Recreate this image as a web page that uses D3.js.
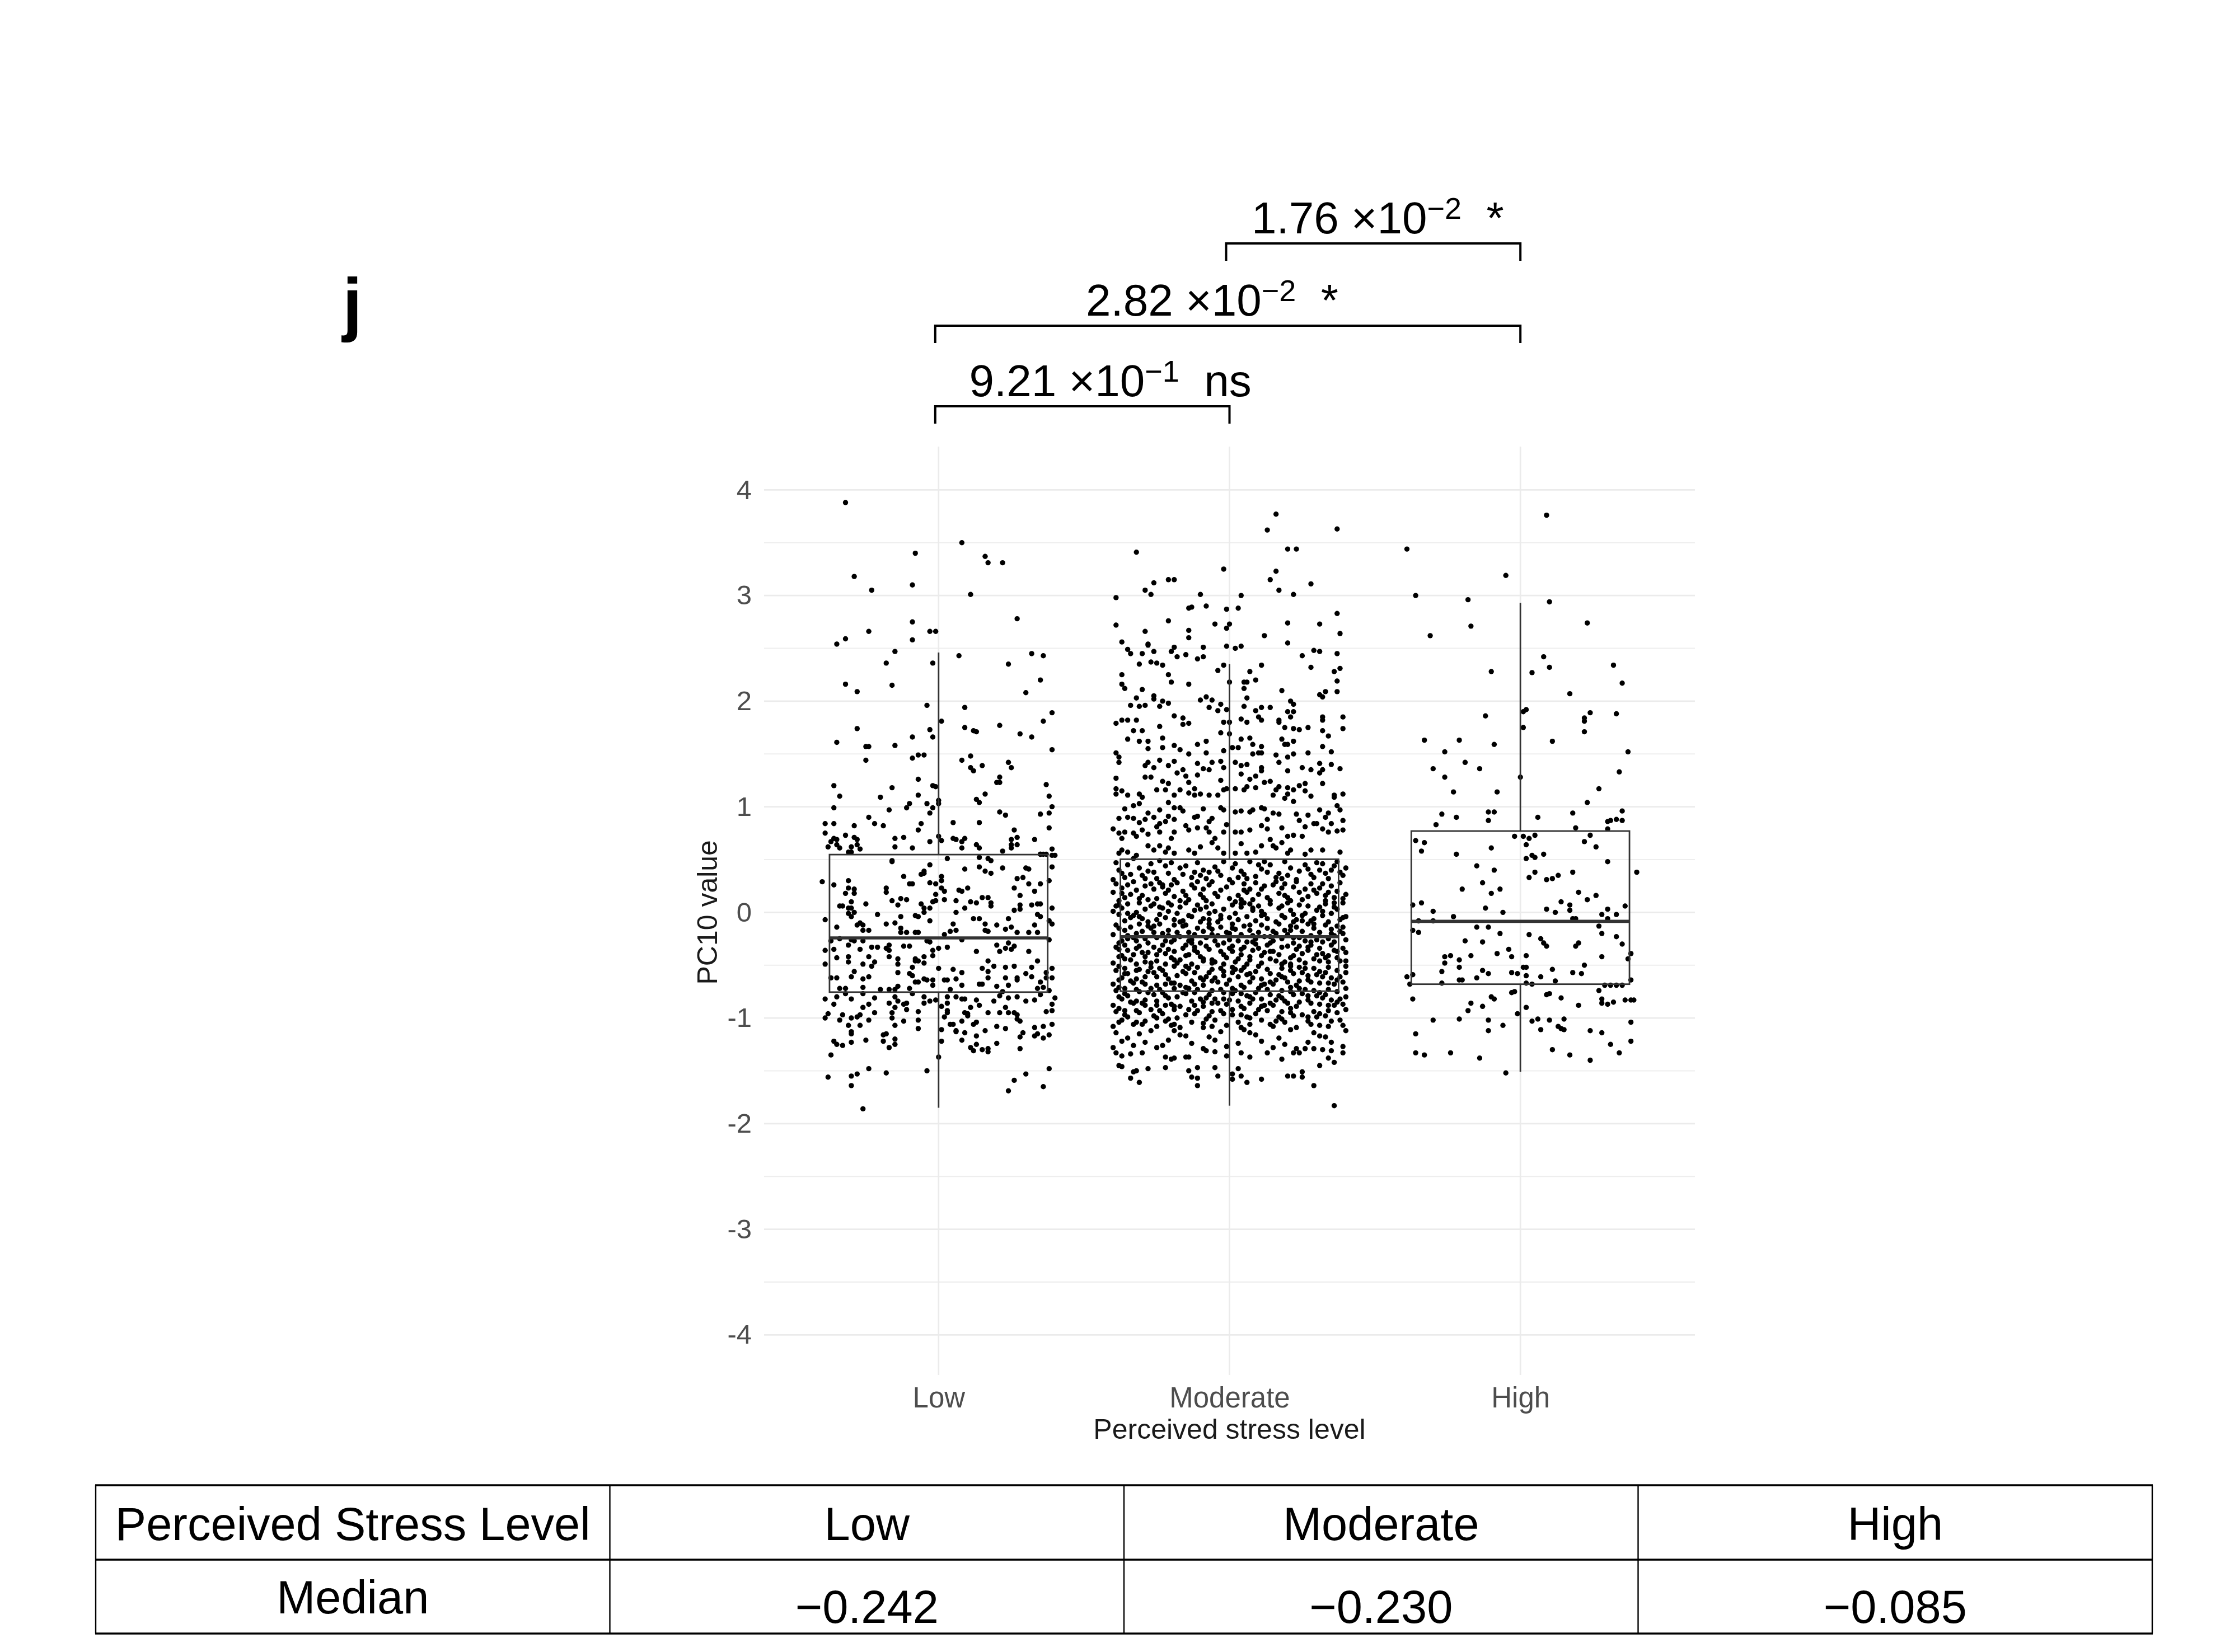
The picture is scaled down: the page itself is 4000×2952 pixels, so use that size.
<!DOCTYPE html>
<html>
<head>
<meta charset="utf-8">
<script src="https://cdn.jsdelivr.net/npm/d3@7"></script>
<style>
  body { margin: 0; background: #fff; }
  text { font-family: "Liberation Sans", Arial, sans-serif; }
</style>
</head>
<body>
<div id="chart"></div>
<script>
// ---- data ----
const categories = ["Low", "Moderate", "High"];
const yTicks = [-4, -3, -2, -1, 0, 1, 2, 3, 4];
const yMinorTicks = [-3.5, -2.5, -1.5, -0.5, 0.5, 1.5, 2.5, 3.5];

// boxplot summaries per category
const q1 = [-0.755, -0.746, -0.68];
const medians = [-0.242, -0.230, -0.085];
const q3 = [0.547, 0.503, 0.77];
const whiskerLow = [-1.85, -1.83, -1.51];
const whiskerHigh = [2.46, 2.35, 2.93];

// pairwise tests
const compFrom = ["Moderate", "Low", "Low"];
const compTo = ["High", "High", "Moderate"];
const pMantissa = ["1.76", "2.82", "9.21"];
const pExponent = ["\u22122", "\u22122", "\u22121"];
const pSignif = ["*", "*", "ns"];

// summary table
const tableHeader = ["Perceived Stress Level", "Low", "Moderate", "High"];
const tableRow = ["Median", "\u22120.242", "\u22120.230", "\u22120.085"];

// jittered points: [horizontal jitter x100 (category units), PC10 value x100]
const lowPoints = [
[-32,388],[8,350],[-8,340],[16,337],[17,331],[22,331],[-29,318],[-9,310],[-23,305],[11,301],[27,278],[-9,275],[-24,266],[-3,266],[-1,266],[-32,259],[-35,254],[-9,258],[-15,247],[7,243],[32,245],[36,243],[-18,236],[-2,236],[24,235],[35,220],[-32,216],[-16,215],[-28,209],[30,208],[-4,196],[9,194],[39,189],[1,181],[36,181],[21,177],[-28,174],[9,175],[-3,173],[12,172],[13,171],[28,169],[-9,166],[-2,166],[32,166],[-35,161],[-25,157],[-24,157],[-15,158],[39,154],[-5,149],[-7,149],[11,148],[-9,146],[8,144],[-25,144],[24,142],[25,137],[15,139],[11,137],[12,134],[-7,126],[21,128],[20,123],[21,123],[-36,120],[37,121],[-16,118],[-2,120],[-1,119],[-34,110],[-7,111],[38,110],[-20,109],[13,107],[14,104],[16,112],[0,106],[0,103],[-10,103],[-4,103],[-11,99],[-36,99],[-2,99],[39,100],[-17,97],[21,95],[23,92],[-3,94],[35,93],[38,94],[-24,90],[-22,84],[-19,82],[-39,84],[-36,84],[-29,82],[-6,84],[5,85],[14,85],[38,80],[-7,78],[26,78],[-39,75],[-32,73],[-12,71],[-15,70],[-15,62],[-36,70],[-37,67],[-35,69],
[-29,71],[-28,69],[-28,64],[-27,60],[25,69],[27,71],[25,64],[27,64],[25,61],[0,72],[1,68],[-3,67],[-9,61],[5,70],[6,69],[8,67],[8,61],[9,70],[13,64],[14,61],[33,69],[22,58],[-38,62],[-35,64],[-34,61],[-30,62],[-31,57],[-30,57],[39,60],[39,54],[35,55],[36,55],
[35,55],[37,55],[40,54],[3,51],[14,52],[17,51],[18,49],[-16,49],[-16,48],[39,43],[-3,45],[14,43],[22,42],[9,41],[30,42],[31,41],[16,39],[18,37],
[-40,29],[-36,26],[-31,30],[-31,23],[-29,22],[-32,18],[-29,18],[-18,23],[-18,19],[-12,34],[-10,27],[-9,27],[-5,37],[-5,39],[-6,36],[-3,28],[-1,27],[1,34],[1,30],[1,23],[2,20],[7,21],[8,20],[10,23],[27,32],[29,33],[26,23],[31,27],[35,27],[33,20],[38,30],[28,16],[-1,17],
[-34,6],[-33,6],[-30,10],[-31,4],[-30,4],[-31,-1],[-29,0],[-25,8],[-16,11],[-14,7],[-13,13],[-11,12],[-6,8],[-5,4],[-5,0],[-3,4],[-2,10],[-1,11],[2,12],[6,11],[9,4],[11,10],[13,9],[15,14],[17,14],[18,9],[18,6],[26,2],[28,7],[28,3],[32,7],[34,8],[35,8],[39,4],[6,0],
[-39,-7],[-35,-14],[-30,-4],[-28,-12],[-27,-10],[-26,-12],[-26,-17],[-24,-17],[-21,-2],[-18,-11],[-15,-10],[-13,-4],[-13,-15],[-13,-19],[-11,-19],[-8,-19],[-7,-19],[-8,-3],[-7,-4],[-3,-8],[2,-21],[4,-18],[5,-11],[6,-17],[12,-6],[14,-6],[16,-11],[16,-17],[17,-18],[20,-12],[24,-6],[23,-16],[25,-14],[27,-19],[31,-19],[33,-12],[34,-2],[35,-4],[38,-8],[39,-11],[34,-19],
[-37,-27],[-36,-35],[-34,-25],[-30,-26],[-29,-27],[-26,-27],[-31,-31],[-27,-35],[-23,-33],[-21,-33],[-18,-34],[-17,-31],[-17,-36],[-12,-32],[-10,-32],[-4,-27],[-3,-28],[-2,-36],[0,-34],[3,-33],[8,-26],[13,-37],[20,-31],[21,-37],[23,-34],[24,-29],[26,-32],[25,-35],[31,-37],[38,-26],[-39,-36],[-35,-43],[-31,-42],[-24,-42],[-17,-42],[-14,-44],[-8,-44],[-5,-42],[-2,-41],
[-39,-49],[-31,-47],[-26,-49],[-22,-47],[-23,-51],[-14,-49],[-9,-52],[-8,-46],[-7,-46],[-5,-48],[-14,-57],[-29,-56],[-30,-61],[-37,-62],[-35,-62],[-26,-63],[-24,-61],[-10,-58],[-9,-60],[-8,-66],[-7,-66],[-5,-63],[-4,-64],[-2,-64],[-2,-69],[0,-53],[2,-64],[3,-64],[5,-54],[8,-57],[6,-63],[8,-69],[14,-68],[15,-68],[15,-53],[17,-56],[19,-51],[17,-46],[17,-62],[20,-70],[23,-52],[23,-62],[24,-69],[26,-51],[27,-62],[27,-64],[30,-58],[32,-52],[32,-61],[34,-46],[35,-66],[37,-57],[37,-62],[39,-53],[39,-62],[-34,-72],[-32,-72],[-26,-71],[-20,-73],[-17,-73],[-15,-73],[-14,-70],[-10,-72],[4,-73],[34,-72],[38,-74],[36,-71],
[-39,-82],[-35,-80],[-36,-87],[-32,-77],[-30,-82],[-26,-77],[-22,-81],[-26,-90],[-24,-87],[-22,-95],[-17,-86],[-15,-80],[-14,-84],[-15,-90],[-12,-87],[-11,-86],[-11,-92],[-9,-77],[-5,-80],[-5,-86],[-3,-84],[-1,-83],[1,-89],[3,-80],[3,-86],[6,-80],[8,-82],[9,-82],[11,-90],[13,-83],[14,-88],[17,-95],[19,-84],[21,-95],[21,-79],[22,-75],[24,-81],[23,-90],[24,-95],[26,-95],[27,-80],[27,-97],[30,-84],[33,-83],[35,-78],[37,-94],[39,-93],[39,-87],[40,-81],
[-38,-96],[-39,-100],[-33,-97],[-34,-102],[-30,-100],[-27,-97],[-28,-99],[-24,-102],[-16,-95],[-16,-100],[-15,-107],[-12,-103],[-7,-94],[-7,-102],[-7,-110],[2,-99],[3,-93],[3,-95],[8,-103],[9,-95],[10,-96],[10,-98],[12,-106],[13,-104],[13,-117],[16,-112],[4,-106],[5,-106],[6,-113],[9,-114],[27,-101],[28,-103],[20,-108],[23,-110],[33,-109],[36,-108],[39,-106],[-31,-107],[-27,-107],[-30,-113],[-30,-115],
[-36,-122],[-35,-125],[-33,-126],[-30,-123],[-25,-121],[-19,-116],[-18,-115],[-19,-122],[-17,-128],[-15,-120],[-15,-125],[1,-111],[1,-122],[6,-112],[8,-121],[11,-128],[12,-131],[13,-125],[15,-130],[17,-129],[17,-132],[20,-124],[28,-118],[29,-114],[28,-129],[34,-115],[33,-117],[36,-119],[38,-116],
[-37,-135],[0,-137],[-24,-148],[-38,-156],[-30,-155],[-28,-153],[-30,-164],[-18,-152],[-4,-150],[38,-148],[30,-153],[26,-159],[24,-169],[36,-165],[-26,-186]
];

const moderatePoints = [
[16,377],[13,362],[37,363],[-32,341],[20,344],[23,344],[-2,325],[16,323],[14,315],[28,311],[17,305],[22,301],[-39,298],[-21,315],[-19,315],[-26,312],[-29,305],[-27,301],[-10,301],[4,300],[37,283],[-14,288],[-13,289],[-8,290],[-1,287],[3,288],[-39,272],[-21,276],[-5,273],[0,273],[-1,269],[20,274],[31,273],[-29,266],[-14,267],[-14,260],[12,262],[38,264],[-37,256],[20,255],[-28,254],[-28,253],[-19,251],[-20,247],[-9,251],[-1,252],[2,250],[4,252],[-35,249],[-34,245],[-30,245],[-26,247],[-18,242],[-15,244],[-11,240],[-9,242],[29,248],[31,247],[25,243],[37,245],[-31,235],[-27,237],[-25,236],[-23,234],[-4,229],[-2,234],[11,234],[28,232],[36,228],[38,231],[7,228],
[-37,225],[-21,225],[-20,218],[-14,216],[0,218],[5,218],[6,218],[9,220],[37,219],[-37,216],[-36,212],[-30,211],[5,212],[18,210],[33,209],[37,209],[31,206],[32,204],[-32,203],[-26,205],[-26,202],[-34,196],[-31,195],[-29,196],[-24,195],[-23,200],[-21,198],[-10,201],[-8,204],[-6,201],[-7,194],[-3,197],[-4,191],[-1,192],[6,203],[5,195],[9,191],[11,194],[14,194],[21,200],[22,197],[20,190],[21,185],[22,190],[39,185],
[-39,179],[-37,182],[-35,182],[-32,182],[-24,176],[-19,186],[-16,184],[-16,178],[-14,179],[-2,180],[0,180],[4,183],[6,180],[10,185],[11,182],[17,182],[17,180],[19,175],[22,174],[24,173],[27,175],[32,185],[32,182],[32,172],[34,167],[39,174],[-33,172],[-30,172],[-23,165],[-3,170],[0,169],[4,164],[7,165],[18,164],[19,159],[20,159],[22,162],[-35,164],[-31,162],[-28,162],[-28,155],[-23,156],[-19,158],[-17,154],[-11,159],[-8,162],[8,159],[11,157],[11,151],[32,157],[35,152],
[-39,151],[-38,147],[-38,142],[-14,150],[-8,151],[-6,142],[-2,153],[-3,143],[-2,137],[1,156],[3,156],[2,142],[8,150],[10,151],[16,149],[20,147],[22,150],[27,151],[35,140],[38,136],[-29,139],[-28,142],[-26,137],[-24,144],[-21,139],[-19,143],[-18,132],[-16,135],[-11,141],[-11,130],[-9,136],[-7,135],[4,139],[6,140],[11,137],[11,134],[17,142],[20,134],[25,137],[28,135],[31,132],[32,135],[31,141],
[-39,127],[-29,128],[-27,128],[-23,124],[-21,122],[-15,129],[-14,123],[-3,125],[4,131],[7,126],[9,129],[12,123],[14,124],[32,122],[-39,117],[-39,112],[-37,115],[-35,111],[-31,112],[-30,109],[-25,116],[-22,116],[-19,111],[-17,116],[-14,113],[-12,117],[-12,111],[-10,112],[-7,111],[-4,111],[-1,117],[-2,116],[2,117],[5,116],[6,119],[9,118],[15,111],[16,116],[17,119],[20,118],[20,112],[22,116],[24,120],[26,122],[26,115],[28,110],[36,111],[36,109],[39,112],[19,108],[22,105],
[-33,101],[-31,103],[-36,98],[-28,94],[-24,97],[-21,104],[-19,99],[-17,99],[-16,96],[-9,98],[-3,99],[-2,97],[2,95],[4,96],[7,95],[8,97],[11,99],[12,98],[15,94],[17,93],[31,97],[34,94],[37,101],[38,97],[-38,89],[-35,90],[-33,89],[-31,85],[-29,88],[-26,90],[-24,84],[-22,86],[-21,91],[-19,88],[-12,90],[-11,91],[-7,86],[-6,89],[-1,83],[13,88],[23,93],[24,87],[26,81],[27,92],[29,84],[33,90],[35,84],[39,87],
[-40,79],[-38,75],[-37,70],[-36,76],[-33,75],[-32,72],[-30,78],[-28,74],[-25,81],[-24,76],[-20,70],[-19,76],[-15,82],[-14,78],[-11,80],[-8,80],[-7,76],[-5,70],[-2,76],[2,76],[4,76],[7,78],[11,82],[13,79],[18,80],[20,72],[22,73],[25,72],[30,84],[32,79],[34,76],[37,77],[39,78],[-38,56],[-37,59],[-35,57],[-33,51],[-32,54],[-28,63],[-26,59],[-24,63],[-22,57],[-21,61],[-19,56],[-14,59],[-12,56],[-10,62],[-6,66],[-4,61],[-2,56],[2,56],[4,65],[6,56],[9,57],[11,63],[14,69],[15,63],[16,61],[18,66],[20,56],[21,59],[26,55],[28,59],[32,59],[38,57],
[-39,47],[-31,42],[-24,49],[-15,44],[-7,38],[2,46],[11,41],[19,48],[28,36],[36,44],[-36,33],[-28,39],[-19,31],[-11,47],[-3,35],[6,32],[14,45],[23,31],[31,40],[39,35],[-38,40],[-27,46],[-21,37],[-13,33],[-5,43],[4,39],[9,34],[17,37],[26,45],[34,32],[-34,36],[-25,32],[-17,42],[-9,40],[0,31],[7,48],[13,38],[21,42],[29,33],[37,48],[-40,31],[-30,35],[-22,44],[-12,38],[-2,48],[5,36],[16,33],[24,39],[32,46],[38,38],[-35,45],[-26,38],[-16,36],[-8,32],[1,42],[10,45],[18,32],[27,41],[33,37],[40,42],[-37,37],[-29,32],[-20,47],[-10,35],[-4,39],[3,33],[12,48],[20,35],[30,47],[35,40],
[-39,27],[-32,21],[-25,13],[-18,28],[-10,17],[-1,24],[8,12],[15,26],[24,19],[33,11],[-36,14],[-29,25],[-22,18],[-14,12],[-6,29],[3,16],[11,22],[20,14],[28,27],[37,20],[-40,19],[-33,29],[-26,22],[-16,20],[-8,11],[0,13],[9,28],[17,18],[25,12],[35,25],[-37,23],[-28,12],[-20,26],[-12,23],[-4,15],[5,27],[13,14],[22,24],[30,18],[39,13],[-34,17],[-27,27],[-19,15],[-11,29],[-3,21],[6,19],[14,11],[23,29],[31,23],[38,28],[-38,11],[-30,16],[-23,24],[-15,16],[-7,26],[2,10],[10,17],[18,23],[27,15],[34,19],[-35,26],[-24,28],[-17,11],[-9,22],[1,28],[7,22],[16,29],[21,11],[29,21],[36,14],[-31,13],[-21,21],[-13,26],[-5,18],[4,12],[12,25],[19,16],[26,22],[32,27],[40,17],
[-37,18],[-23,26],[-9,14],[5,21],[19,27],[33,16],
[-39,6],[-33,-3],[-26,8],[-19,-7],[-12,2],[-4,-9],[4,5],[12,-2],[20,9],[29,-6],[37,3],[-36,-8],[-29,3],[-22,-5],[-15,9],[-7,-1],[1,7],[9,-8],[17,4],[25,-3],[33,8],[40,-4],[-40,1],[-31,9],[-24,-2],[-17,5],[-9,-6],[-2,3],[6,-4],[14,8],[22,-9],[30,2],[38,-7],[-37,4],[-28,-9],[-21,1],[-13,-4],[-6,8],[3,-7],[11,1],[19,-5],[27,6],[35,-1],[-34,-5],[-27,6],[-18,-1],[-11,7],[-3,-3],[5,9],[13,-6],[21,2],[28,-8],[36,5],[-38,-2],[-30,-6],[-23,4],[-16,-8],[-8,5],[0,-5],[8,2],[16,-9],[24,7],[32,-3],[39,9],[-35,8],[-25,-7],[-20,7],[-14,-3],[-5,1],[2,-1],[10,6],[18,-3],[26,-1],[34,-9],[-32,0],[-10,-9],[7,8],[23,-7],[31,5],
[-38,7],[-31,-4],[-24,5],[-17,-9],[-10,3],[-3,-6],[4,8],[11,-3],[18,6],[25,-8],[32,1],[39,-5],[-35,-1],[-21,9],[-7,-7],[8,4],[22,-2],[36,9],
[-39,-12],[-33,-24],[-27,-15],[-20,-28],[-14,-19],[-7,-11],[0,-26],[7,-17],[14,-29],[21,-13],[28,-22],[35,-16],[-37,-27],[-30,-18],[-24,-11],[-17,-23],[-10,-29],[-3,-14],[4,-21],[11,-12],[18,-25],[25,-18],[32,-28],[39,-20],[-40,-21],[-34,-14],[-28,-29],[-21,-17],[-15,-12],[-8,-24],[-1,-19],[6,-28],[13,-15],[20,-21],[27,-11],[34,-25],[-36,-17],[-29,-25],[-23,-20],[-16,-13],[-9,-18],[-2,-29],[5,-13],[12,-23],[19,-17],[26,-27],[33,-12],[40,-26],[-38,-29],[-31,-11],[-25,-24],[-18,-19],[-11,-15],[-4,-22],[3,-27],[10,-19],[17,-11],[24,-24],[31,-19],[37,-13],[-35,-22],[-26,-13],[-19,-26],[-12,-21],[-5,-27],[2,-16],[9,-25],[16,-20],[23,-14],[30,-26],[36,-22],[-32,-20],[-22,-27],[-13,-26],[-6,-16],[1,-11],[8,-22],[15,-27],[22,-29],[29,-15],[38,-18],
[-38,-15],[-32,-27],[-26,-19],[-19,-12],[-13,-29],[-6,-21],[1,-15],[8,-28],[15,-18],[22,-24],[29,-11],[36,-28],[-35,-25],[-28,-13],[-21,-22],[-14,-27],[-7,-14],[0,-20],[7,-12],[14,-23],[21,-17],[28,-28],[35,-20],[39,-14],
[-39,-33],[-34,-45],[-28,-38],[-22,-49],[-16,-34],[-10,-42],[-4,-31],[2,-47],[8,-36],[14,-44],[20,-32],[26,-48],[32,-39],[38,-46],[-37,-41],[-31,-32],[-25,-46],[-19,-37],[-13,-49],[-7,-35],[-1,-43],[5,-33],[11,-48],[17,-40],[23,-35],[29,-44],[35,-31],[40,-38],[-40,-48],[-35,-36],[-29,-42],[-23,-31],[-17,-45],[-11,-38],[-5,-47],[1,-37],[7,-42],[13,-31],[19,-47],[25,-39],[31,-34],[37,-43],[-38,-35],[-32,-49],[-26,-33],[-20,-43],[-14,-40],[-8,-32],[-2,-49],[4,-40],[10,-34],[16,-46],[22,-41],[28,-31],[34,-47],[39,-34],[-36,-44],[-30,-38],[-24,-36],[-18,-48],[-12,-33],[-6,-45],[0,-34],[6,-49],[12,-38],[18,-33],[24,-45],[30,-40],[36,-36],[-33,-40],[-27,-48],[-21,-35],[-15,-41],[-9,-46],[-3,-37],[3,-44],[9,-30],[15,-37],[21,-49],[27,-36],[33,-43],
[-38,-42],[-32,-34],[-25,-40],[-19,-45],[-12,-36],[-6,-48],[1,-32],[7,-45],[14,-37],[21,-43],[27,-33],[34,-41],[40,-46],[-36,-31],[-29,-47],[-22,-39],[-15,-31],[-9,-44],[-2,-40],[4,-35],[11,-41],[18,-49],[24,-32],[31,-46],[37,-37],
[-39,-55],[-33,-67],[-27,-52],[-21,-63],[-15,-58],[-9,-69],[-3,-53],[3,-61],[9,-56],[15,-68],[21,-51],[27,-64],[33,-57],[39,-66],[-37,-62],[-31,-54],[-25,-69],[-19,-51],[-13,-65],[-7,-57],[-1,-68],[5,-52],[11,-63],[17,-59],[23,-69],[29,-53],[35,-62],[40,-51],[-40,-68],[-35,-58],[-29,-61],[-23,-55],[-17,-69],[-11,-52],[-5,-62],[1,-57],[7,-66],[13,-54],[19,-62],[25,-57],[31,-67],[37,-55],[-38,-51],[-32,-63],[-26,-57],[-20,-67],[-14,-53],[-8,-61],[-2,-56],[4,-69],[10,-51],[16,-64],[22,-58],[28,-66],[34,-52],[38,-61],[-36,-58],[-30,-66],[-24,-53],[-18,-60],[-12,-68],[-6,-54],[0,-64],[6,-59],[12,-68],[18,-53],[24,-65],[30,-59],[36,-68],[-34,-65],[-28,-56],[-22,-68],[-16,-56],[-10,-62],[-4,-66],[2,-54],[8,-62],[14,-58],[20,-66],[26,-53],[32,-61],
[-38,-64],[-32,-55],[-25,-61],[-19,-67],[-12,-57],[-6,-65],[1,-52],[7,-58],[14,-66],[21,-55],[27,-60],[34,-67],[40,-57],[-36,-53],[-29,-68],[-22,-59],[-15,-51],[-9,-64],[-2,-60],[4,-55],[11,-69],[18,-61],[24,-52],[31,-56],[37,-64],
[-39,-74],[-33,-86],[-27,-72],[-21,-81],[-15,-77],[-9,-89],[-3,-73],[3,-84],[9,-76],[15,-88],[21,-71],[27,-83],[33,-78],[39,-87],[-37,-82],[-31,-75],[-25,-88],[-19,-72],[-13,-84],[-7,-78],[-1,-87],[5,-71],[11,-82],[17,-79],[23,-89],[29,-74],[35,-83],[40,-72],[-40,-88],[-35,-79],[-29,-83],[-23,-76],[-17,-89],[-11,-73],[-5,-82],[1,-77],[7,-86],[13,-73],[19,-84],[25,-77],[31,-87],[37,-75],[-38,-71],[-32,-84],[-26,-78],[-20,-87],[-14,-72],[-8,-81],[-2,-76],[4,-89],[10,-72],[16,-83],[22,-78],[28,-86],[34,-73],[38,-82],[-36,-77],[-30,-86],[-24,-73],[-18,-80],[-12,-88],[-6,-74],[0,-83],[6,-79],[12,-88],[18,-74],[24,-85],[30,-79],[36,-88],[-34,-85],[-28,-76],[-22,-88],[-16,-76],[-10,-82],[-4,-86],[2,-74],[8,-82],[14,-78],[20,-86],[26,-73],[32,-81],
[-38,-80],[-32,-73],[-25,-84],[-19,-89],[-12,-76],[-6,-86],[1,-72],[7,-80],[14,-86],[21,-75],[27,-79],[34,-88],[40,-80],[-36,-72],[-29,-88],[-22,-79],[-15,-71],[-9,-85],[-2,-82],[4,-77],[11,-89],[18,-81],[24,-72],[31,-76],[37,-85],
[-39,-94],[-33,-106],[-27,-92],[-21,-101],[-15,-97],[-9,-109],[-3,-93],[3,-104],[9,-96],[15,-108],[21,-91],[27,-103],[33,-98],[39,-107],[-37,-102],[-31,-95],[-25,-108],[-19,-92],[-13,-104],[-7,-98],[-1,-107],[5,-91],[11,-102],[17,-99],[23,-109],[29,-94],[35,-103],[40,-92],[-40,-108],[-35,-99],[-29,-103],[-23,-96],[-17,-109],[-11,-93],[-5,-102],[1,-97],[7,-106],[13,-93],[19,-104],[25,-97],[31,-107],[37,-95],[-38,-91],[-32,-104],[-26,-98],[-20,-107],[-14,-92],[-8,-101],[-2,-96],[4,-109],[10,-92],[16,-103],[22,-98],[28,-106],[34,-93],[38,-102],[-36,-97],[-30,-106],[-24,-93],[-18,-100],[-6,-94],[6,-99],[18,-94],[30,-99],
[-38,-104],[-32,-93],[-25,-100],[-19,-106],[-12,-96],[-6,-108],[1,-92],[7,-100],[14,-106],[21,-95],[27,-99],[34,-108],[-36,-93],[-22,-103],[-9,-105],[4,-97],[18,-101],[31,-96],
[-39,-114],[-33,-126],[-27,-112],[-21,-121],[-15,-117],[-9,-129],[-3,-113],[3,-124],[9,-116],[15,-128],[21,-111],[27,-123],[33,-118],[39,-127],[-37,-122],[-31,-115],[-25,-128],[-19,-112],[-13,-124],[-7,-118],[-1,-127],[5,-111],[11,-122],[17,-119],[23,-129],[29,-114],[35,-123],[40,-112],[-40,-128],[-35,-119],[-29,-123],[-17,-116],[-5,-121],[7,-114],[19,-125],[31,-117],
[-39,-133],[-37,-136],[-34,-134],[-30,-133],[-38,-145],[-37,-146],[-28,-148],[-33,-151],[-32,-150],[-34,-157],[-31,-161],[-23,-126],[-22,-137],[-20,-139],[-19,-138],[-15,-137],[-14,-137],[-22,-147],[-14,-150],[-13,-156],[-11,-157],[-11,-164],[-11,-147],[-8,-131],[-5,-132],[-5,-147],[-4,-155],[-1,-136],[1,-153],[1,-158],[3,-148],[4,-155],[4,-133],[6,-161],[7,-137],[11,-158],[13,-133],[18,-139],[20,-155],[22,-155],[25,-156],[25,-151],[22,-133],[24,-133],[26,-129],[29,-129],[31,-145],[29,-164],[34,-138],[36,-142],[39,-133],[36,-183],[32,-130],[35,-131]
];

const highPoints = [
[9,376],[-39,344],[-5,319],[-36,300],[-18,296],[10,294],[-17,271],[-31,262],[23,274],[8,242],[10,232],[-10,228],[4,227],[32,234],[35,217],[17,207],[-12,186],[1,190],[2,192],[1,175],[22,184],[22,181],[24,189],[33,188],[22,171],[-33,163],[-21,163],[-9,159],[11,162],[-26,152],[-19,142],[37,152],[-30,136],[-14,136],[-26,128],[0,128],[34,133],[-23,114],[-8,114],[27,117],[23,104],[-27,93],[-22,90],[-11,95],[-9,95],[-11,87],[6,90],[18,94],[35,96],[35,87],[-29,83],[19,80],[30,86],[31,87],[33,88],[30,79],[-2,72],[1,72],[3,70],[5,73],[2,64],[-36,68],[-33,66],[-34,58],[-10,61],[22,67],[24,73],[26,62],[-22,55],[2,51],[4,54],[5,52],[8,55],[30,48],[-15,44],[-9,40],[3,33],[5,38],[9,31],[11,32],[13,35],[18,38],[40,38],[-13,28],[-20,22],[-10,18],[-7,22],[20,19],[26,16],[23,12],[14,10],[17,7],[-37,7],[-34,9],[-30,1],[-12,4],[-6,0],[9,3],[12,0],[-23,-4],[17,2],[18,-6],[19,-6],[28,-2],[30,3],[33,-2],[36,6],[-35,-8],[-30,-8],[-37,-17],[-35,-19],[-15,-14],[-11,-14],[27,-13],[30,-6],[-7,-20],[3,-21],[28,-20],[33,-23],[-19,-27],[-13,-28],[7,-25],[8,-29],[9,-32],[20,-29],[19,-32],[35,-30],[-4,-35],[-8,-39],[-17,-41],[-26,-42],[-24,-41],[-3,-42],[2,-41],[28,-42],[38,-39],[-21,-45],[37,-44],[-26,-48],[22,-50],[-21,-52],[1,-52],[2,-52],[-27,-56],[-13,-55],[-11,-58],[-3,-57],[-1,-58],[11,-54],[18,-57],[21,-58],[2,-60],[7,-61],[-39,-61],[-37,-59],[-21,-64],[-20,-64],[-15,-62],[38,-64],[-27,-67],[-38,-68],[2,-67],[4,-68],[12,-65],[27,-74],[29,-69],[31,-69],[33,-69],[35,-69],[-3,-76],[-2,-75],[-37,-82],[-10,-80],[-9,-82],[9,-78],[10,-77],[14,-81],[28,-82],[28,-86],[30,-87],[32,-85],[36,-83],[38,-83],[39,-83],[-17,-86],[-18,-93],[-13,-89],[20,-88],[2,-90],[-1,-96],[-30,-102],[-21,-101],[-11,-102],[-6,-107],[4,-103],[6,-101],[10,-102],[15,-101],[13,-108],[14,-110],[15,-111],[38,-104],[-36,-115],[-11,-112],[7,-111],[24,-112],[28,-114],[31,-125],[38,-122],[-36,-133],[-33,-135],[-24,-133],[-14,-138],[11,-130],[17,-135],[24,-140],[34,-133],[-5,-152]
];

const pointsByCategory = [lowPoints, moderatePoints, highPoints];

// ---- layout ----
const width = 4000, height = 2952;
const panel = { left: 1365, right: 3028, top: 798, bottom: 2457 };
const font = '"Liberation Sans", Arial, sans-serif';

const svg = d3.select("#chart").append("svg")
  .attr("width", width)
  .attr("height", height)
  .style("display", "block");

svg.append("rect").attr("width", width).attr("height", height).attr("fill", "#fff");

const x = d3.scalePoint()
  .domain(categories)
  .range([panel.left, panel.right])
  .padding(0.6);
const step = x.step();

const y = d3.scaleLinear()
  .domain([-4.38, 4.41])
  .range([panel.bottom, panel.top]);

// grid
const grid = svg.append("g");
grid.selectAll(".minor").data(yMinorTicks).join("line")
  .attr("x1", panel.left).attr("x2", panel.right)
  .attr("y1", d => y(d)).attr("y2", d => y(d))
  .attr("stroke", "#eeeeee").attr("stroke-width", 2.1);
grid.selectAll(".major").data(yTicks).join("line")
  .attr("x1", panel.left).attr("x2", panel.right)
  .attr("y1", d => y(d)).attr("y2", d => y(d))
  .attr("stroke", "#ebebeb").attr("stroke-width", 2.7);
grid.selectAll(".vert").data(categories).join("line")
  .attr("x1", d => x(d)).attr("x2", d => x(d))
  .attr("y1", panel.top).attr("y2", panel.bottom)
  .attr("stroke", "#ebebeb").attr("stroke-width", 2.7);

// jittered points
const pts = svg.append("g");
categories.forEach((c, i) => {
  pts.append("g").selectAll("circle")
    .data(pointsByCategory[i])
    .join("circle")
      .attr("cx", d => x(c) + d[0] / 100 * step)
      .attr("cy", d => y(d[1] / 100))
      .attr("r", 4.7)
      .attr("fill", "#000");
});

// boxplots
const boxW = 0.75 * step;
const boxes = svg.append("g").attr("stroke", "#333333").attr("fill", "none");
categories.forEach((c, i) => {
  const cx = x(c);
  boxes.append("line")
    .attr("x1", cx).attr("x2", cx)
    .attr("y1", y(q3[i])).attr("y2", y(whiskerHigh[i]))
    .attr("stroke-width", 2.8);
  boxes.append("line")
    .attr("x1", cx).attr("x2", cx)
    .attr("y1", y(q1[i])).attr("y2", y(whiskerLow[i]))
    .attr("stroke-width", 2.8);
  boxes.append("rect")
    .attr("x", cx - boxW / 2).attr("width", boxW)
    .attr("y", y(q3[i])).attr("height", y(q1[i]) - y(q3[i]))
    .attr("stroke-width", 2.8);
  boxes.append("line")
    .attr("x1", cx - boxW / 2).attr("x2", cx + boxW / 2)
    .attr("y1", y(medians[i])).attr("y2", y(medians[i]))
    .attr("stroke-width", 5.6);
});

// axes
const yAxis = svg.append("g")
  .attr("transform", `translate(${panel.left},0)`)
  .call(d3.axisLeft(y).tickValues(yTicks).tickSize(0).tickPadding(22).tickFormat(d => String(d)));
yAxis.select(".domain").remove();
yAxis.selectAll("text").attr("font-size", 49).attr("font-family", font).attr("fill", "#4d4d4d");

const xAxis = svg.append("g")
  .attr("transform", `translate(0,${panel.bottom})`)
  .call(d3.axisBottom(x).tickSize(0).tickPadding(22));
xAxis.select(".domain").remove();
xAxis.selectAll("text").attr("font-size", 51).attr("font-family", font).attr("fill", "#4d4d4d");

svg.append("text")
  .attr("x", (panel.left + panel.right) / 2).attr("y", 2571)
  .attr("text-anchor", "middle")
  .attr("font-size", 50).attr("fill", "#1a1a1a")
  .text("Perceived stress level");

svg.append("text")
  .attr("transform", `translate(1281,${y(0)}) rotate(-90)`)
  .attr("text-anchor", "middle")
  .attr("font-size", 50).attr("fill", "#1a1a1a")
  .text("PC10 value");

// significance brackets
const bracketY = [435, 582, 726];
const labelShift = [8, -28, 50];
const bracketDrop = 31;
const ann = svg.append("g");
compFrom.forEach((f, i) => {
  const x1 = x(f) - 6, x2 = x(compTo[i]);
  const by = bracketY[i];
  ann.append("path")
    .attr("d", `M${x1},${by + bracketDrop}V${by}H${x2}V${by + bracketDrop}`)
    .attr("fill", "none").attr("stroke", "#000").attr("stroke-width", 4);
  const t = ann.append("text")
    .attr("x", (x1 + x2) / 2 + labelShift[i]).attr("y", by - 18)
    .attr("text-anchor", "middle")
    .attr("font-size", 80).attr("fill", "#000")
    .style("white-space", "pre");
  t.append("tspan").text(pMantissa[i] + " \u00d710");
  t.append("tspan").attr("font-size", 54).attr("dy", -26).text(pExponent[i]);
  t.append("tspan").attr("dy", 26).text("  " + pSignif[i]);
});

// panel letter
svg.append("text")
  .attr("x", 612).attr("y", 586)
  .attr("font-size", 126).attr("font-weight", "bold").attr("fill", "#000")
  .text("j");

// summary table
const table = { left: 171, right: 3845, rows: [2654, 2787, 2919] };
const colX = d3.scaleBand().domain(d3.range(tableHeader.length)).range([table.left, table.right]);
const tg = svg.append("g");
tg.selectAll(".hline").data(table.rows).join("line")
  .attr("x1", table.left - 1).attr("x2", table.right + 1)
  .attr("y1", d => d).attr("y2", d => d)
  .attr("stroke", "#000").attr("stroke-width", 3.6);
tg.selectAll(".vline").data(d3.range(tableHeader.length + 1)).join("line")
  .attr("x1", d => table.left + d * colX.bandwidth()).attr("x2", d => table.left + d * colX.bandwidth())
  .attr("y1", table.rows[0]).attr("y2", table.rows[2])
  .attr("stroke", "#000").attr("stroke-width", 2.4);
tg.selectAll(".head").data(tableHeader).join("text")
  .attr("x", (d, i) => colX(i) + colX.bandwidth() / 2).attr("y", 2752)
  .attr("text-anchor", "middle").attr("font-size", 83).attr("fill", "#000")
  .text(d => d);
tg.selectAll(".cell").data(tableRow).join("text")
  .attr("x", (d, i) => colX(i) + colX.bandwidth() / 2).attr("y", (d, i) => i === 0 ? 2883 : 2900)
  .attr("text-anchor", "middle").attr("font-size", 83).attr("fill", "#000")
  .text(d => d);
</script>
</body>
</html>
